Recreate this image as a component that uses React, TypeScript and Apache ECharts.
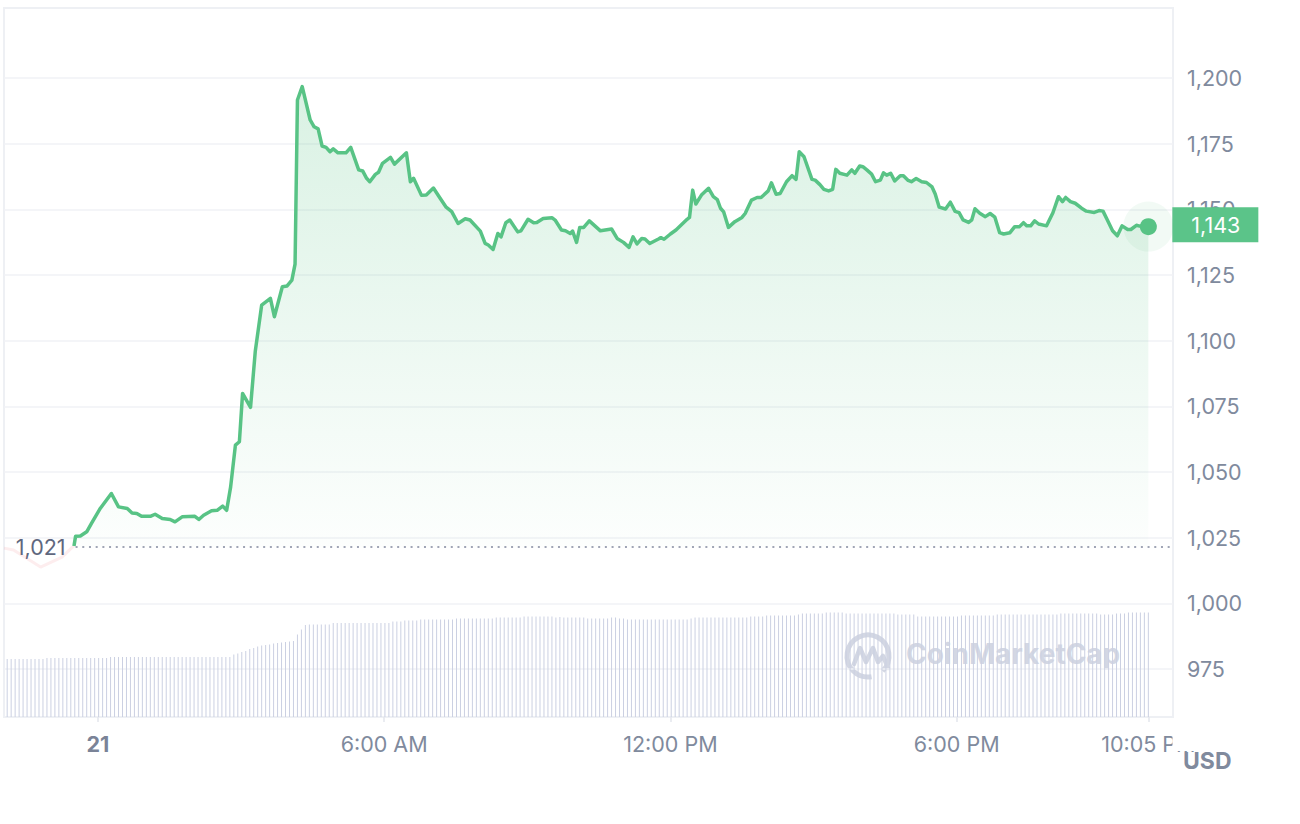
import React, { useEffect, useRef } from "react";
import * as echarts from "echarts";

// Price vertices: minutes from 00:00 on the 21st, and USD price
const PRICE_TIMES = [
  -30, -28, -22, -14, -8, 3, 17, 26, 37, 43, 49, 55, 66, 72, 81, 91, 97, 106, 122, 127, 133, 143, 150, 157, 162, 167, 173, 178, 182, 192, 198,
  206, 217, 222, 232, 238, 244, 248, 251, 257, 267, 272, 277, 282, 287, 292, 296, 302, 312, 318, 328, 333, 338, 342, 349, 353, 358, 368, 373,
  388, 393, 397, 407, 413, 422, 430, 438, 445, 453, 462, 468, 481, 487, 491, 497, 503, 507, 513, 518, 528, 532, 541, 548, 552, 560, 571, 575,
  583, 588, 594, 597, 602, 606, 611, 618, 632, 646, 653, 661, 668, 673, 678, 684, 688, 694, 705, 708, 712, 720, 727, 741, 744, 748, 752, 759,
  768, 774, 779, 783, 787, 793, 801, 810, 814, 822, 829, 834, 843, 847, 853, 858, 866, 873, 878, 882, 888, 898, 902, 908, 913, 919, 924, 928,
  933, 942, 948, 952, 958, 962, 967, 973, 978, 984, 988, 992, 997, 1002, 1009, 1013, 1019, 1023, 1029, 1036, 1042, 1049, 1053, 1058, 1066,
  1072, 1078, 1083, 1088, 1095, 1099, 1103, 1109, 1116, 1122, 1128, 1134, 1139, 1147, 1153, 1159, 1164, 1168, 1173, 1178, 1183, 1193, 1201,
  1208, 1213, 1217, 1223, 1229, 1237, 1243, 1253, 1259, 1264, 1269, 1276, 1282, 1288, 1295, 1299, 1306, 1310, 1321,
];
const PRICE_VALUES = [
  1021.8, 1025.5, 1025.6, 1027.2, 1030.4, 1036.1, 1041.8, 1036.7, 1036.1, 1034.4, 1034.2, 1033.1, 1033.1, 1033.9, 1032.3, 1031.9, 1031.0,
  1032.9, 1033.1, 1031.9, 1033.5, 1035.2, 1035.4, 1037.0, 1035.4, 1044.3, 1060.2, 1061.5, 1079.9, 1074.6, 1096.0,
  1113.5, 1116.1, 1109.1, 1120.5, 1120.8, 1123.0, 1129.1, 1191.6, 1196.7, 1184.0, 1181.4, 1180.6, 1174.1, 1173.6, 1171.9, 1173.0, 1171.5,
  1171.5, 1173.6, 1165.0, 1164.6, 1161.8, 1160.5, 1163.3, 1164.1, 1167.5, 1169.8, 1167.2,
  1171.5, 1160.5, 1161.8, 1155.3, 1155.4, 1158.1, 1154.4, 1150.8, 1149.1, 1144.6, 1146.4, 1145.9, 1141.7, 1137.0, 1136.4, 1134.7, 1140.8,
  1139.5, 1144.9, 1145.9, 1141.4, 1141.8, 1146.2, 1144.9, 1145.0, 1146.5, 1146.8, 1145.9,
  1142.1, 1141.8, 1140.8, 1141.7, 1137.4, 1143.1, 1143.1, 1145.6, 1141.8, 1142.5, 1138.9, 1137.4, 1135.5, 1139.5, 1136.8, 1138.9, 1138.7,
  1137.0, 1138.7, 1139.2, 1138.6, 1140.6, 1142.1, 1146.2, 1146.9, 1157.3, 1152.0, 1155.4,
  1158.0, 1154.8, 1153.7, 1150.4, 1149.0, 1143.1, 1145.3, 1146.9, 1148.4, 1153.5, 1154.5, 1154.5, 1157.0, 1160.1, 1155.7, 1156.0, 1160.5,
  1162.8, 1161.4, 1171.9, 1170.0, 1161.4, 1161.1, 1159.4, 1157.6, 1157.0, 1157.6, 1165.2,
  1163.7, 1163.0, 1165.0, 1163.7, 1166.5, 1166.2, 1165.0, 1163.4, 1160.5, 1161.1, 1163.9, 1163.0, 1163.7, 1160.8, 1162.8, 1162.8, 1161.0,
  1160.5, 1161.7, 1160.5, 1160.2, 1158.5, 1155.8, 1150.8, 1150.1,
  1152.7, 1149.2, 1148.7, 1146.0, 1145.0, 1146.0, 1150.2, 1148.5, 1147.2, 1148.4, 1147.0, 1141.1, 1140.6, 1141.1, 1143.4, 1143.4, 1144.9,
  1143.7, 1143.7, 1145.6, 1144.4, 1143.7, 1148.7,
  1154.8, 1152.9, 1154.5, 1152.9, 1152.3, 1150.4, 1149.3, 1148.8, 1149.5, 1149.3, 1146.2, 1141.8, 1139.9, 1143.7, 1142.3, 1142.3, 1143.9,
  1143.6, 1143.4,
];

// Faint segment before the reference start
const PRE_TIMES = [-118, -106, -72, -45, -33, -30];
const PRE_VALUES = [1021.0, 1020.3, 1013.8, 1017.6, 1021.1, 1021.8];

const REFERENCE_PRICE = 1021.5;
const REFERENCE_START = -28;

// Volume bars, one per 5 minutes (relative heights)
const VOLUME_START = -114;
const VOLUME_STEP = 5;
const VOLUMES = [
  58, 58, 58, 58, 58, 58, 58, 58, 58, 58,
  59, 59, 59, 59, 59, 59, 59, 59, 59, 59, 59, 59, 59, 59, 59, 59,
  60, 60, 60, 60, 60, 60, 60, 60, 60, 60, 60, 60, 60, 60, 60, 60, 60, 60, 60, 60, 60, 60, 60, 60, 60, 60, 60, 60, 60, 60, 60,
  62.5, 63.5, 65, 66, 68, 69, 70.5, 71.5, 72, 72.5, 73.5, 74, 74.5, 75, 75.5, 76, 82.5, 87.5, 92,
  92.5, 92.5, 92.5, 92.5, 92.5, 92.5,
  94, 94, 94, 94, 94, 94, 94, 94, 94, 94, 94, 94, 94, 94, 94,
  95.5, 95.5, 95.5,
  96.5, 96.5, 96.5, 96.5,
  97.5, 97.5, 97.5, 97.5, 97.5, 97.5, 97.5, 97.5, 97.5,
  98.5, 98.5, 98.5, 98.5, 98.5, 98.5, 98.5, 98.5, 98.5, 98.5,
  99.5, 99.5, 99.5, 99.5, 99.5, 99.5, 99.5,
  100.5, 100.5, 100.5, 100.5, 100.5, 100.5, 100.5, 100.5,
  99.5, 100, 99.5, 99.5, 99.5, 99.5, 99.5, 99.5,
  98.5, 98.5, 98.5, 98.5, 98.5, 98.5,
  99.5, 99.5,
  98.5, 98.5,
  97.5, 97.5, 97.5, 97.5, 97.5, 97.5, 97.5, 97.5, 97.5, 97.5, 97.5, 97.5, 97.5, 97.5, 97.5, 97.5,
  98.5,
  99.5, 99.5, 99.5, 99.5, 99.5, 99.5, 99.5, 99.5, 99.5, 99.5, 99.5, 99.5, 99.5, 99.5,
  100.5, 100.5, 100.5, 100.5,
  101.5, 101.5, 101.5, 101.5, 101.5, 101.5, 101.5, 101.5,
  102.5,
  103.5, 103.5, 103.5, 103.5, 103.5, 103.5,
  104.5, 104.5, 104.5, 104.5, 104.5,
  103.5, 103.5, 103.5, 103.5, 103.5, 103.5, 103.5, 103.5, 103.5, 103.5, 103.5, 103.5, 103.5,
  102.5, 102.5, 102.5, 102.5, 102.5,
  100.5, 100.5, 100.5, 100.5, 100.5, 100.5, 100.5, 100.5, 100.5, 100.5, 100.5,
  101.5, 101.5, 101.5, 101.5, 101.5, 101.5, 101.5, 101.5, 101.5,
  102.5, 102.5, 102.5, 102.5, 102.5, 102.5, 102.5, 102.5, 102.5, 102.5, 102.5, 102.5, 102.5, 102.5, 102.5, 102.5,
  103.5, 103.5, 103.5, 103.5, 103.5, 103.5, 103.5, 103.5, 103.5, 103.5,
  102.5, 102.5, 102.5, 102.5,
  103.5, 103.5, 103.5,
  104.5, 104.5, 104.5, 104.5, 104.5, 104.5,
];
const VOLUME_AXIS_MAX = 709;

const X_MIN = -118;
const X_MAX = 1352;
const X_TICK_VALUES = [0, 360, 720, 1080, 1321];
const X_TICK_LABELS = ["21", "6:00 AM", "12:00 PM", "6:00 PM", "10:05 PM"];

const Y_MIN = 950;
const Y_MAX = 1225;
const Y_STEP = 25;

const GREEN = "#58c385";
const LABEL_GRAY = "#808a9d";
const FONT = "Inter, 'Noto Sans', sans-serif";
const FS = 21.5;

export default function App() {
  const ref = useRef<HTMLDivElement>(null);

  useEffect(() => {
    if (!ref.current) return;
    const chart = echarts.init(ref.current, undefined, { renderer: "svg" });

    const priceData = PRICE_TIMES.map((t, i) => [t, PRICE_VALUES[i]]);
    const preData = PRE_TIMES.map((t, i) => [t, PRE_VALUES[i]]);
    const volData = VOLUMES.map((v, i) => [VOLUME_START + i * VOLUME_STEP, v]);
    const last = priceData[priceData.length - 1];
    const fmt = (v: number) => Math.round(v).toLocaleString("en-US");

    const option: any = {
      animation: false,
      backgroundColor: "#ffffff",
      grid: [
        { left: 4, right: 127, top: 12.3, bottom: 89.4 },
        {
          left: 4,
          right: 127,
          top: 8,
          bottom: 107,
          show: true,
          backgroundColor: "transparent",
          borderColor: "#eef0f4",
          borderWidth: 2,
        },
      ],
      xAxis: [
        { gridIndex: 0, type: "value", min: X_MIN, max: X_MAX, show: false },
        {
          gridIndex: 1,
          type: "value",
          min: X_MIN,
          max: X_MAX,
          axisLine: { show: false },
          splitLine: { show: false },
          axisTick: {
            show: true,
            customValues: X_TICK_VALUES,
            length: 5,
            lineStyle: { color: "#e3e6ed", width: 1.5 },
          },
          axisLabel: {
            customValues: X_TICK_VALUES,
            margin: 16,
            fontSize: FS,
            fontFamily: FONT,
            color: LABEL_GRAY,
            formatter: (v: number) => {
              const idx = X_TICK_VALUES.indexOf(Math.round(v));
              const txt = idx >= 0 ? X_TICK_LABELS[idx] : "";
              return idx === 0 ? `{b|${txt}}` : txt;
            },
            rich: {
              b: { fontSize: FS, fontWeight: "bold", fontFamily: FONT, color: "#7a8397" },
            },
          },
        },
      ],
      yAxis: [
        {
          gridIndex: 0,
          type: "value",
          position: "right",
          min: Y_MIN,
          max: Y_MAX,
          interval: Y_STEP,
          axisLine: { show: false },
          axisTick: { show: false },
          splitLine: {
            show: true,
            showMinLine: false,
            showMaxLine: false,
            lineStyle: { color: "#f1f2f6", width: 1.5 },
          },
          axisLabel: {
            showMinLabel: false,
            showMaxLabel: false,
            margin: 14,
            fontSize: FS,
            fontFamily: FONT,
            color: LABEL_GRAY,
            formatter: (v: number) => fmt(v),
          },
        },
        { gridIndex: 1, type: "value", min: 0, max: VOLUME_AXIS_MAX, show: false },
      ],
      series: [
        {
          type: "bar",
          xAxisIndex: 1,
          yAxisIndex: 1,
          data: volData,
          barWidth: 1,
          silent: true,
          itemStyle: { color: "#cbd0e2" },
        },
        {
          type: "line",
          xAxisIndex: 0,
          yAxisIndex: 0,
          data: preData,
          symbol: "none",
          silent: true,
          lineStyle: { color: "rgba(234,57,67,0.09)", width: 3 },
        },
        {
          type: "line",
          xAxisIndex: 0,
          yAxisIndex: 0,
          data: priceData,
          symbol: "none",
          silent: true,
          lineStyle: { color: GREEN, width: 3.5, join: "round" },
          areaStyle: {
            origin: REFERENCE_PRICE,
            color: new echarts.graphic.LinearGradient(0, 0, 0, 1, [
              { offset: 0, color: "rgba(88,195,133,0.32)" },
              { offset: 1, color: "rgba(88,195,133,0.02)" },
            ]),
          },
          endLabel: {
            show: true,
            formatter: (p: any) => fmt(p.value[1]),
            color: "#ffffff",
            fontSize: FS,
            fontFamily: FONT,
            lineHeight: 22,
            backgroundColor: "#5bc489",
            padding: [7, 18, 6, 19],
            distance: 24,
            offset: [0, -2],
          },
          markLine: {
            silent: true,
            symbol: ["none", "none"],
            lineStyle: { type: [2, 4.7], color: "#a0a5b5", width: 2 },
            label: {
              show: true,
              position: "start",
              distance: 10,
              fontSize: FS,
              fontFamily: FONT,
              color: "#60677e",
              formatter: () => Math.floor(REFERENCE_PRICE).toLocaleString("en-US"),
            },
            data: [[{ coord: [REFERENCE_START, REFERENCE_PRICE] }, { coord: [X_MAX, REFERENCE_PRICE] }]],
          },
          markPoint: {
            silent: true,
            symbol: "circle",
            label: { show: false },
            data: [
              { coord: last, symbolSize: 50, itemStyle: { color: "rgba(88,195,133,0.08)" } },
              { coord: last, symbolSize: 17, itemStyle: { color: GREEN } },
            ],
          },
        },
      ],
      graphic: [
        {
          type: "rect",
          left: 1172.5,
          top: 726,
          shape: { width: 34, height: 25 },
          style: { fill: "#ffffff" },
          z: 100,
        },
        {
          type: "text",
          left: 1183,
          top: 749,
          style: {
            text: "USD",
            fontSize: 23,
            fontWeight: "bold",
            fontFamily: FONT,
            fill: LABEL_GRAY,
          },
          z: 101,
        },
        {
          type: "group",
          z: 50,
          silent: true,
          children: [
            {
              type: "arc",
              shape: { cx: 868, cy: 656, r: 21, startAngle: 1.4, endAngle: 0.8, clockwise: true },
              style: { stroke: "#d3d7e3", lineWidth: 5, fill: null },
            },
            {
              type: "polyline",
              shape: {
                points: [
                  [854, 664],
                  [860, 648],
                  [866, 662],
                  [873, 648],
                  [878, 662],
                  [883, 656],
                  [888, 668],
                ],
              },
              style: { stroke: "#d3d7e3", lineWidth: 4.5, lineJoin: "round", lineCap: "round", fill: null },
            },
            {
              type: "text",
              left: 906,
              top: 640,
              style: {
                text: "CoinMarketCap",
                fontSize: 28,
                fontWeight: "bold",
                fontFamily: FONT,
                fill: "#d3d7e3",
              },
            },
          ],
        },
      ],
    };

    chart.setOption(option);
    return () => chart.dispose();
  }, []);

  return (
    <div
      ref={ref}
      style={{ position: "absolute", left: 0, top: 0, width: 1300, height: 824, background: "#ffffff" }}
    />
  );
}
